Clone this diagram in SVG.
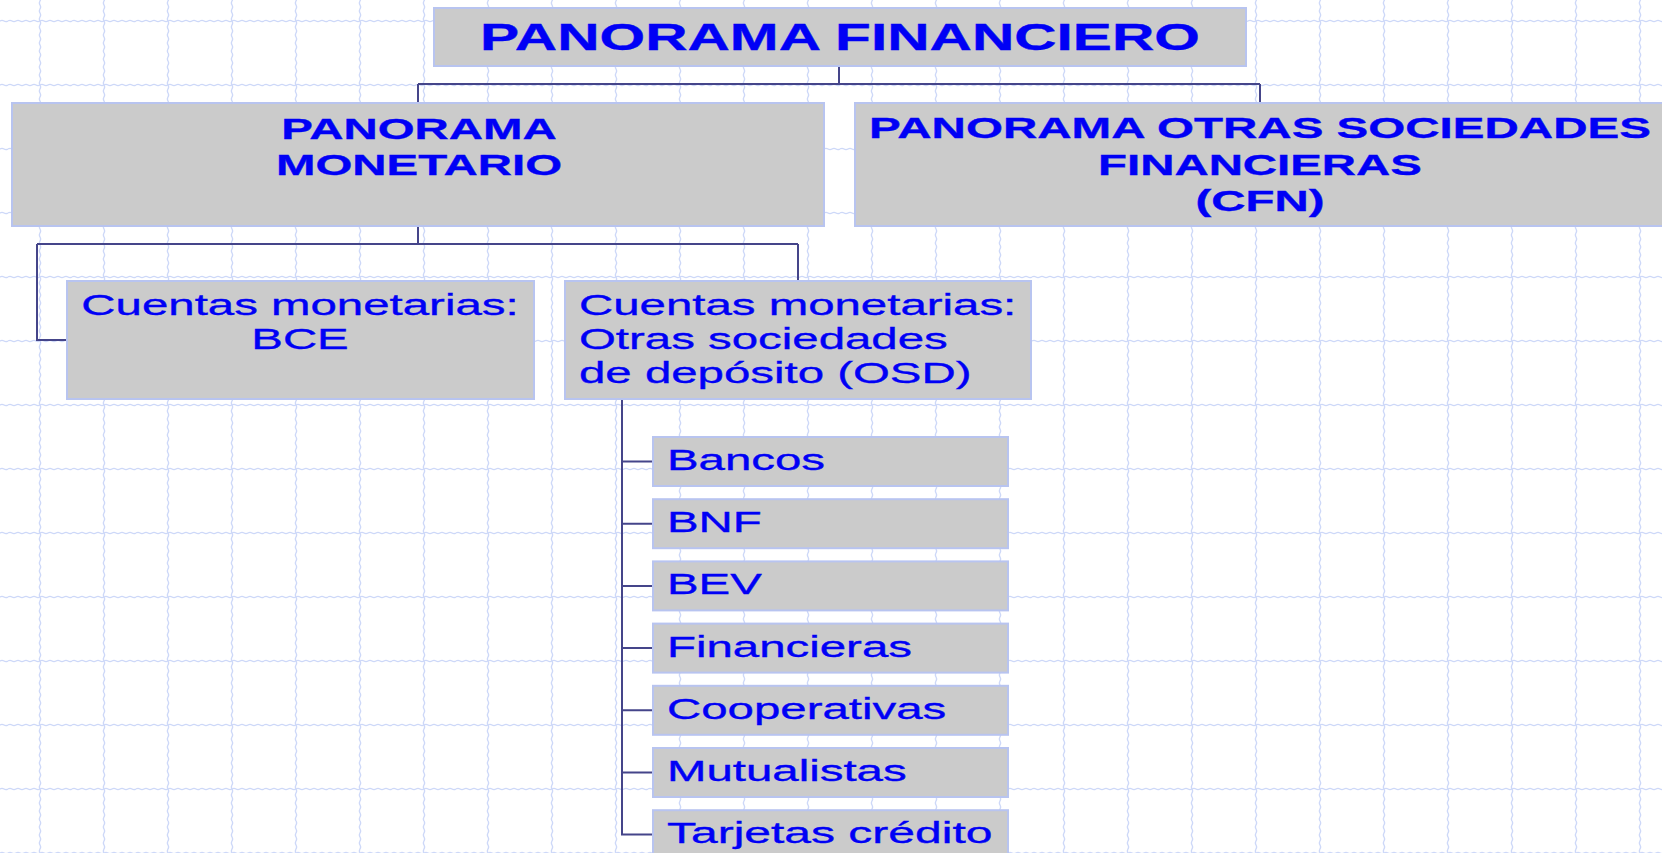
<svg xmlns="http://www.w3.org/2000/svg" width="1662" height="853" viewBox="0 0 1662 853">
<style>
.box{fill:#cbcbcb;stroke:#b8c4f0;stroke-width:2}
.t{font-family:"Liberation Sans",Arial,sans-serif;fill:#0000f5;stroke:#0000f5;stroke-width:0.35;font-size:30px}
.b{font-weight:bold}
.c{text-anchor:middle}
.conn{fill:none;stroke:#45458a;stroke-width:2}
.g{fill:none;stroke:#cdd8f8;stroke-width:1.4}
</style>
<defs>
<pattern id="grid" patternUnits="userSpaceOnUse" x="8" y="-11" width="64" height="64">
<path class="g" d="M0 32q2-1.2 4 0t4 0t4 0t4 0t4 0t4 0t4 0t4 0t4 0t4 0t4 0t4 0t4 0t4 0t4 0t4 0"/>
<path class="g" d="M32 0q1.2 2 0 4t0 4t0 4t0 4t0 4t0 4t0 4t0 4t0 4t0 4t0 4t0 4t0 4t0 4t0 4t0 4"/>
</pattern>
</defs>
<rect width="1662" height="853" fill="#ffffff"/>
<rect width="1662" height="853" fill="url(#grid)"/>

<g id="connectors">
<path class="conn" d="M839 66V84M418 84H1260M418 84V103M1260 84V103"/>
<path class="conn" d="M418 226V244M37 244H798M37 244V340H67M798 244V281"/>
<path class="conn" d="M622 399V834.5H653M622 461.5H653M622 523.7H653M622 585.9H653M622 648.1H653M622 710.3H653M622 772.5H653"/>
</g>

<g id="panorama-financiero">
<rect class="box" x="434" y="8" width="812" height="58"/>
<text class="t b c" style="font-size:37px" transform="translate(840 50) scale(1.585 1)">PANORAMA FINANCIERO</text>
</g>

<g id="panorama-monetario">
<rect class="box" x="12" y="103" width="812" height="123"/>
<text class="t b c" transform="translate(419 139) scale(1.58 1)">PANORAMA</text>
<text class="t b c" transform="translate(419 175) scale(1.58 1)">MONETARIO</text>
</g>

<g id="panorama-otras">
<rect class="box" x="855" y="103" width="811" height="123"/>
<text class="t b c" transform="translate(1260 138) scale(1.585 1)">PANORAMA OTRAS SOCIEDADES</text>
<text class="t b c" transform="translate(1260 175) scale(1.58 1)">FINANCIERAS</text>
<text class="t b c" transform="translate(1260 211) scale(1.58 1)">(CFN)</text>
</g>

<g id="cuentas-bce">
<rect class="box" x="67" y="281" width="467" height="118"/>
<text class="t c" transform="translate(300 315) scale(1.58 1)">Cuentas monetarias:</text>
<text class="t c" transform="translate(300 349) scale(1.58 1)">BCE</text>
</g>

<g id="cuentas-osd">
<rect class="box" x="565" y="281" width="466" height="118"/>
<text class="t" transform="translate(579 315) scale(1.58 1)">Cuentas monetarias:</text>
<text class="t" transform="translate(579 349) scale(1.58 1)">Otras sociedades</text>
<text class="t" transform="translate(579 383) scale(1.58 1)">de depósito (OSD)</text>
</g>

<g id="bancos">
<rect class="box" x="653" y="437" width="355" height="49"/>
<text class="t" transform="translate(667 470) scale(1.58 1)">Bancos</text>
</g>
<g id="bnf">
<rect class="box" x="653" y="499.2" width="355" height="49"/>
<text class="t" transform="translate(667 532.2) scale(1.58 1)">BNF</text>
</g>
<g id="bev">
<rect class="box" x="653" y="561.4" width="355" height="49"/>
<text class="t" transform="translate(667 594.4) scale(1.58 1)">BEV</text>
</g>
<g id="financieras">
<rect class="box" x="653" y="623.6" width="355" height="49"/>
<text class="t" transform="translate(667 656.6) scale(1.58 1)">Financieras</text>
</g>
<g id="cooperativas">
<rect class="box" x="653" y="685.8" width="355" height="49"/>
<text class="t" transform="translate(667 718.8) scale(1.58 1)">Cooperativas</text>
</g>
<g id="mutualistas">
<rect class="box" x="653" y="748" width="355" height="49"/>
<text class="t" transform="translate(667 781) scale(1.58 1)">Mutualistas</text>
</g>
<g id="tarjetas">
<rect class="box" x="653" y="810.2" width="355" height="49"/>
<text class="t" transform="translate(667 843.2) scale(1.6 1)">Tarjetas crédito</text>
</g>
</svg>
